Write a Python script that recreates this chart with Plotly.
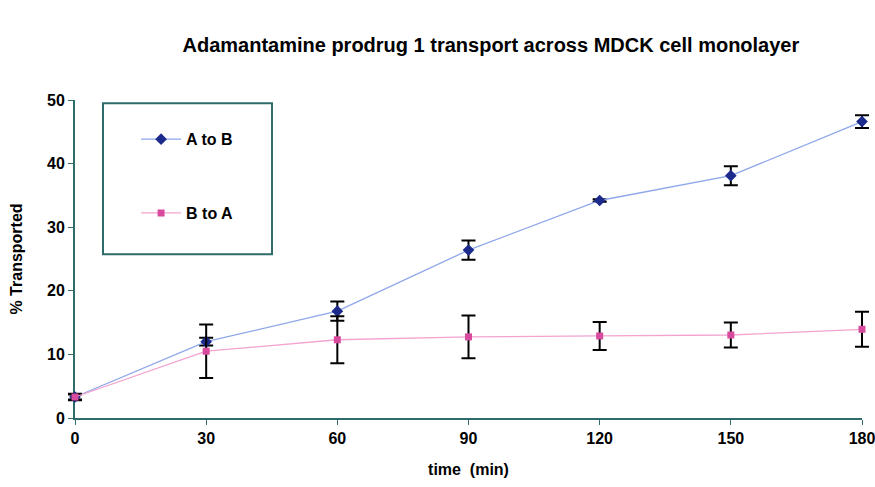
import plotly.graph_objects as go

time_min = [0, 30, 60, 90, 120, 150, 180]
a_to_b = [3.3, 12.0, 16.8, 26.4, 34.2, 38.1, 46.6]
a_to_b_err = [0.5, 0.6, 1.5, 1.5, 0.2, 1.5, 1.0]
b_to_a = [3.3, 10.5, 12.3, 12.75, 12.9, 13.05, 13.95]
b_to_a_err = [0.4, 4.2, 3.7, 3.35, 2.2, 1.95, 2.75]
x_ticks = [0, 30, 60, 90, 120, 150, 180]
y_ticks = [0, 10, 20, 30, 40, 50]

FONT = "Arial, Liberation Sans, sans-serif"
AXIS_COLOR = "#2f6b6b"

W, H = 875, 487
ML, MR = 68, 6
AX_L, AX_R = 75, 862          # pixel extent of the visible x axis
plot_w = W - ML - MR
d0 = (AX_L - ML) / plot_w
d1 = (AX_R - ML) / plot_w
upp = (x_ticks[-1] - x_ticks[0]) / (AX_R - AX_L)   # units per pixel
x2_range = [x_ticks[0] - (AX_L - ML) * upp, x_ticks[-1] + (W - MR - AX_R) * upp]

fig = go.Figure()
# empty trace so the visible axis subplot exists
fig.add_trace(go.Scatter(x=[], y=[], showlegend=False, hoverinfo="skip", xaxis="x", yaxis="y"))
fig.add_trace(go.Scatter(
    x=time_min, y=a_to_b, name="A to B", mode="lines+markers",
    line=dict(color="#8ea6ea", width=1.3),
    marker=dict(symbol="diamond", size=9, color="#1c2a8c"),
    error_y=dict(type="data", array=a_to_b_err, color="black", thickness=2, width=7),
    cliponaxis=False, legendgroup="a", xaxis="x2", yaxis="y",
))
fig.add_trace(go.Scatter(
    x=time_min, y=b_to_a, name="B to A", mode="lines+markers",
    line=dict(color="#f4a3cf", width=1.3),
    marker=dict(symbol="square", size=7, color="#d84a9e"),
    error_y=dict(type="data", array=b_to_a_err, color="black", thickness=2, width=7),
    cliponaxis=False, legendgroup="b", xaxis="x2", yaxis="y",
))

tick_font = dict(size=16, family=FONT, color="black", weight="bold")

fig.update_layout(
    width=W, height=H,
    margin=dict(l=ML, r=MR, t=100, b=69, autoexpand=False),
    paper_bgcolor="white", plot_bgcolor="rgba(0,0,0,0)",
    font=dict(family=FONT, color="black"),
    title=dict(text="Adamantamine prodrug 1 transport across MDCK cell monolayer",
               x=0.561, xanchor="center", xref="container",
               y=0.907, yanchor="middle", yref="container",
               font=dict(size=20, family=FONT, color="black", weight="bold")),
    xaxis=dict(range=[x_ticks[0], x_ticks[-1]], domain=[d0, d1], tickvals=x_ticks,
               ticks="outside", ticklen=5, ticklabeloverflow="allow", automargin=False,
               tickcolor=AXIS_COLOR, showline=True, linecolor=AXIS_COLOR, linewidth=2,
               showgrid=False, zeroline=False, tickfont=tick_font, anchor="y",
               title=dict(text="time  (min)", font=dict(size=16, family=FONT, weight="bold"),
                          standoff=18)),
    xaxis2=dict(range=x2_range, domain=[0, 1], anchor="y", automargin=False,
                showticklabels=False, ticks="", showline=False,
                showgrid=False, zeroline=False),
    yaxis=dict(range=[0, 50], tickvals=y_ticks, ticks="outside", ticklen=5, anchor="x",
               automargin=False,
               tickcolor=AXIS_COLOR, showline=True, linecolor=AXIS_COLOR, linewidth=2,
               showgrid=False, zeroline=False, tickfont=tick_font,
               title=dict(text="% Transported", font=dict(size=16, family=FONT, weight="bold"),
                          standoff=20)),
    legend=dict(x=0.085, y=0.93, xanchor="left", yanchor="top",
                bgcolor="rgba(0,0,0,0)", borderwidth=0,
                traceorder="grouped", tracegroupgap=50,
                font=dict(size=16, family=FONT, color="black", weight="bold"),
                itemwidth=40),
    shapes=[dict(type="rect", xref="paper", yref="paper",
                 x0=(103 - ML) / plot_w, x1=(272 - ML) / plot_w, y0=0.515, y1=0.99,
                 line=dict(color=AXIS_COLOR, width=2), fillcolor="rgba(0,0,0,0)", layer="below")],
    showlegend=True,
)

fig.write_html("out.html", config={"displayModeBar": False},
               post_script="document.body.style.margin='0';document.body.style.padding='0';")
